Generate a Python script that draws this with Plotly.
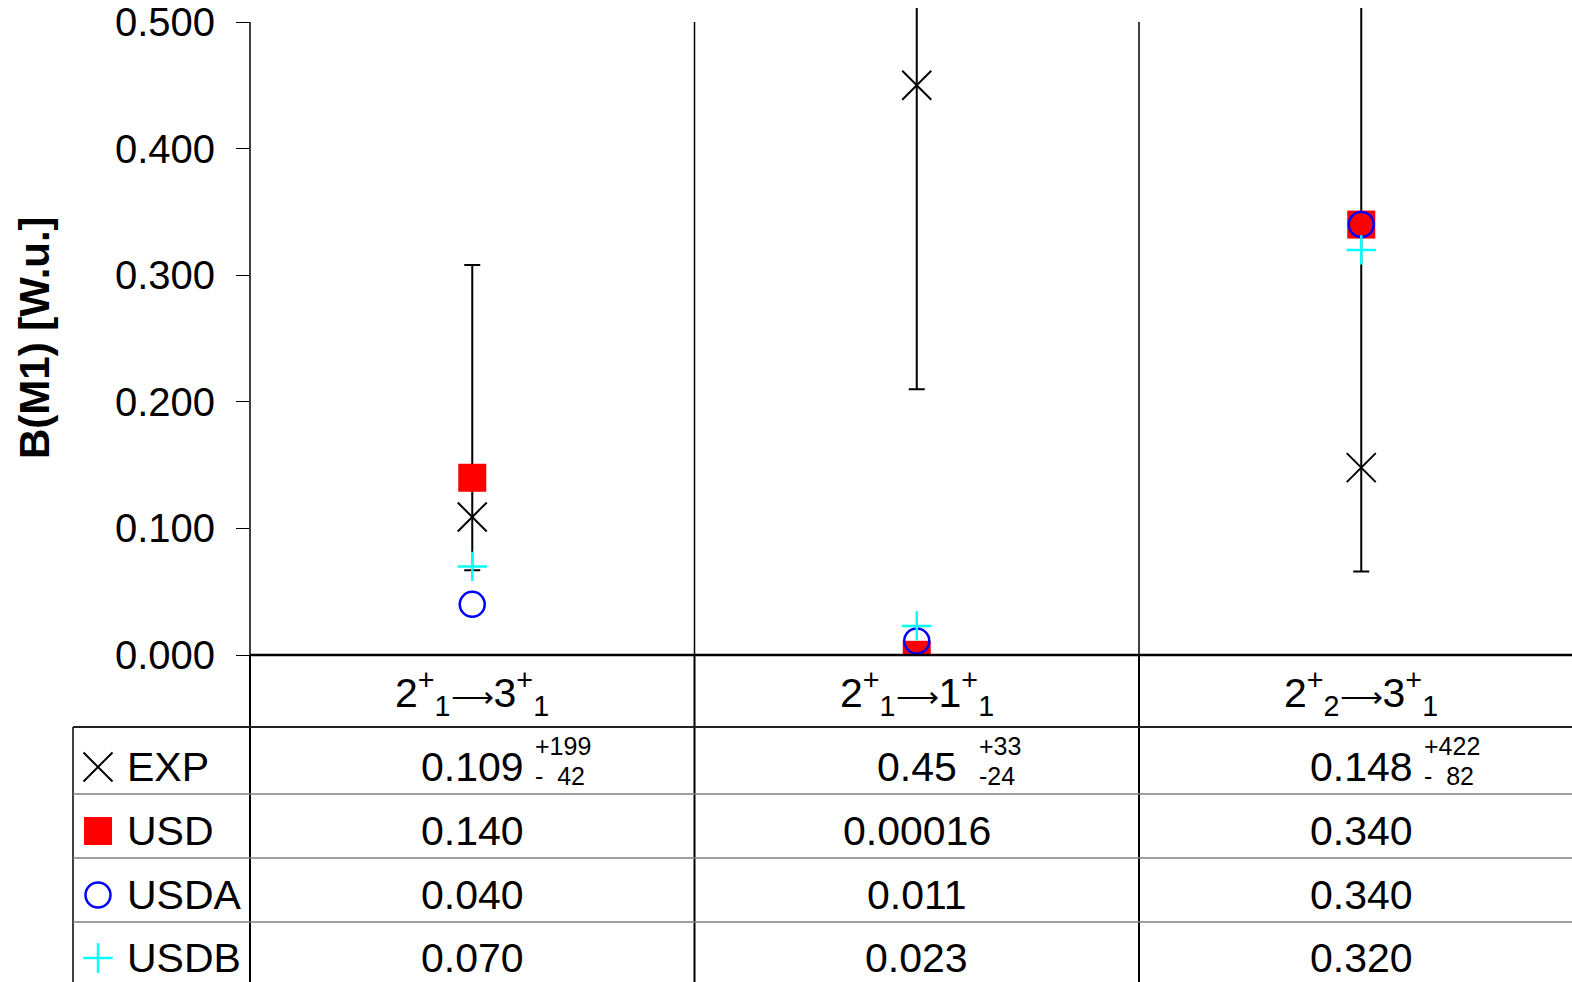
import plotly.graph_objects as go

# ---- data -------------------------------------------------------------
ARROW = "<span style='font-size:30px'>⟶</span>"
transitions = ["2<sup>+</sup><sub>1</sub>" + ARROW + "3<sup>+</sup><sub>1</sub>",
               "2<sup>+</sup><sub>1</sub>" + ARROW + "1<sup>+</sup><sub>1</sub>",
               "2<sup>+</sup><sub>2</sub>" + ARROW + "3<sup>+</sup><sub>1</sub>"]

exp_text = ["0.109", "0.45", "0.148"]      # measured B(M1) [W.u.]
exp_up_digits = [199, 33, 422]              # uncertainty in last digits
exp_dn_digits = [42, 24, 82]

usd_text = ["0.140", "0.00016", "0.340"]
usda_text = ["0.040", "0.011", "0.340"]
usdb_text = ["0.070", "0.023", "0.320"]

y_ticks = [0.0, 0.1, 0.2, 0.3, 0.4, 0.5]

# ---- derived values -----------------------------------------------------
def decimals(s):
    return len(s.split(".")[1])

exp_vals = [float(s) for s in exp_text]
err_plus = [d * 10 ** -decimals(s) for d, s in zip(exp_up_digits, exp_text)]
err_minus = [d * 10 ** -decimals(s) for d, s in zip(exp_dn_digits, exp_text)]
usd_vals = [float(s) for s in usd_text]
usda_vals = [float(s) for s in usda_text]
usdb_vals = [float(s) for s in usdb_text]

# ---- geometry (pixels) ----------------------------------------------------
W, H = 1572, 982
T = 8                              # top margin
PLOT_L = 250                       # left edge of the plot area
ZERO_PX = 655                      # baseline of the plot / top of the table
COL_W = 444.5                      # px per transition column
Y_PX = 1266.0                      # px per unit of B(M1)
PH = H - T                         # paper height

XMAX = (W - PLOT_L) / COL_W
YMAX = (ZERO_PX - T) / Y_PX
xs = [i + 0.5 for i in range(len(transitions))]

FONT = "Liberation Sans, Arial, sans-serif"


def px_x(px):
    return px / W


def px_y(py):
    return (H - py) / PH


def col_x(v):
    return (PLOT_L + v * COL_W) / W


fig = go.Figure()

err_style = dict(type="data", symmetric=False, array=err_plus, arrayminus=err_minus,
                 color="black", thickness=2, width=8)

series = [
    ("EXP", exp_vals, dict(symbol="x-thin-open", size=29, color="black",
                           line=dict(width=2, color="black"))),
    ("USD", usd_vals, dict(symbol="square", size=28, color="#FF0000",
                           line=dict(width=0))),
    ("USDA", usda_vals, dict(symbol="circle-open", size=25, color="#0000FF",
                             line=dict(width=2.5, color="#0000FF"))),
    ("USDB", usdb_vals, dict(symbol="cross-thin-open", size=21, color="#00FFFF",
                             line=dict(width=2.5, color="#00FFFF"))),
]

for name, vals, mk in series:
    fig.add_trace(go.Scatter(
        x=xs, y=vals, mode="markers", name=name, marker=mk,
        error_y=err_style if name == "EXP" else None,
        showlegend=False, cliponaxis=True, hoverinfo="skip"))

# ---- data table below the plot -------------------------------------------
HEAD_BOT = 727
ROW_LINES = [794, 858, 922]
TABLE_LEFT = 73
ROW_TEXT_Y = [767, 831, 895, 958]
KEY_X = 98
LABEL_X = 125

# legend keys drawn on an auxiliary pixel-scaled axis pair covering the table's label column
for r, (name, _, mk) in enumerate(series):
    fig.add_trace(go.Scatter(x=[KEY_X], y=[ROW_TEXT_Y[r]], mode="markers", marker=mk,
                             xaxis="x2", yaxis="y2", showlegend=False,
                             hoverinfo="skip"))

shapes = []


def hline(py, x0, x1, color="black", width=1.5):
    shapes.append(dict(type="line", xref="paper", yref="paper",
                       x0=x0, x1=x1, y0=px_y(py), y1=px_y(py),
                       line=dict(color=color, width=width)))


def vline(x, py0, py1, color="black", width=1.5):
    shapes.append(dict(type="line", xref="paper", yref="paper",
                       x0=x, x1=x, y0=px_y(py0), y1=px_y(py1),
                       line=dict(color=color, width=width)))


top_px = ZERO_PX - y_ticks[-1] * Y_PX
# y axis line and column separators
for i in range(len(transitions)):
    vline(col_x(i), top_px, ZERO_PX, width=1.5)
    vline(col_x(i), ZERO_PX, H + 5, width=2)
vline(px_x(TABLE_LEFT), HEAD_BOT, H + 5, width=1.5)

hline(ZERO_PX, col_x(0), 1.01, width=2.5)
hline(HEAD_BOT, px_x(TABLE_LEFT), 1.01, color="#222222", width=2)
for py in ROW_LINES:
    hline(py, px_x(TABLE_LEFT), 1.01, color="#7f7f7f", width=1.5)

annotations = []


def text(s, x, py, size=41, anchor="center", bold=False, angle=0):
    annotations.append(dict(text=("<b>%s</b>" % s) if bold else s,
                            xref="paper", yref="paper", x=x, y=px_y(py),
                            xanchor=anchor, yanchor="middle", showarrow=False,
                            textangle=angle,
                            font=dict(family=FONT, size=size, color="black")))


# header row
for i, t in enumerate(transitions):
    text(t, col_x(xs[i]), 693)

# value rows
rows = [exp_text, usd_text, usda_text, usdb_text]
for r, row in enumerate(rows):
    for i, s in enumerate(row):
        text(s, col_x(xs[i]), ROW_TEXT_Y[r])

# asymmetric uncertainties beside the measured values
STACK_X = [533, 977, 1422]
for i in range(len(exp_text)):
    up = str(exp_up_digits[i])
    dn = str(exp_dn_digits[i])
    pad = "\u00a0\u00a0" * (len(up) - len(dn))
    text("+" + up, px_x(STACK_X[i]), 746, size=25, anchor="left")
    text("-" + pad + dn, px_x(STACK_X[i]), 776, size=25, anchor="left")

# row labels
for r, (name, _, _) in enumerate(series):
    text(name, px_x(LABEL_X), ROW_TEXT_Y[r], anchor="left")

# y axis title
text("B(M1) [W.u.]", px_x(35), 338, size=42, bold=True, angle=-90)

hidden = dict(visible=False, showgrid=False, zeroline=False, automargin=False)

fig.update_layout(
    width=W, height=H,
    margin=dict(l=0, r=0, t=T, b=0, pad=0, autoexpand=False),
    paper_bgcolor="white", plot_bgcolor="rgba(0,0,0,0)",
    shapes=shapes, annotations=annotations,
    xaxis=dict(domain=[PLOT_L / W, 1], range=[0, XMAX], **hidden),
    yaxis=dict(domain=[px_y(ZERO_PX), 1], range=[0, YMAX], tickvals=y_ticks,
               tickformat=".3f", ticks="outside", ticklen=13, tickwidth=1,
               tickcolor="black", ticklabelstandoff=13, ticklabeloverflow="allow",
               showgrid=False, zeroline=False, showline=False, automargin=False,
               tickfont=dict(family=FONT, size=40, color="black")),
    xaxis2=dict(domain=[0, PLOT_L / W], range=[0, PLOT_L], anchor="y2", **hidden),
    yaxis2=dict(domain=[0, px_y(ZERO_PX)], range=[H, ZERO_PX], anchor="x2", **hidden),
    showlegend=False,
)

fig.write_html("out.html")
